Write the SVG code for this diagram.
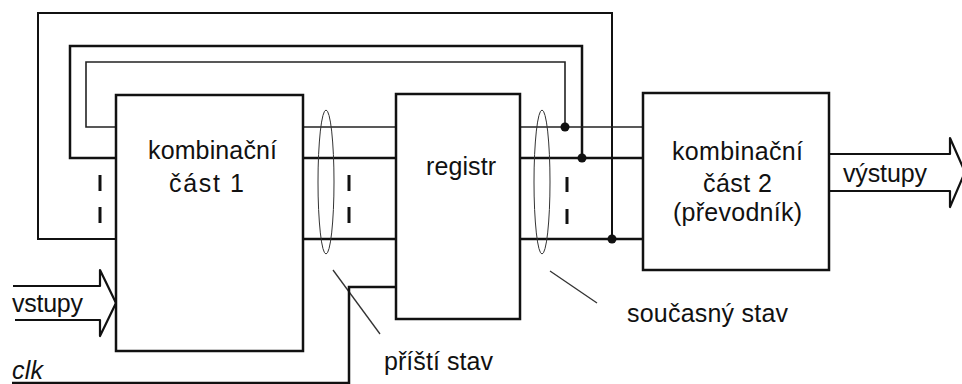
<svg xmlns="http://www.w3.org/2000/svg" width="962" height="384" viewBox="0 0 962 384">
<style>
  .box { fill: #fff; stroke: #111; stroke-width: 2.5; }
  .w { fill: none; stroke: #111; stroke-width: 2.5; }
  .t { fill: none; stroke: #222; stroke-width: 1.6; }
  .thin { fill: none; stroke: #333; stroke-width: 1; }
  .dash { stroke: #111; stroke-width: 3; }
  .dot { fill: #111; }
  text { font-family: "Liberation Sans", Arial, sans-serif; font-size: 25px; fill: #111; }
</style>
<rect width="962" height="384" fill="#fff"/>
<g id="connectors">
  <polyline class="w" points="116,239 38,239 38,13 612,13 612,239" style="stroke-width:2"/>
  <polyline class="w" points="116,158 70,158 70,46 582,46 582,158"/>
  <polyline class="t" points="116,127 86,127 86,62 565,62 565,127"/>
  <line class="t" x1="303" y1="127" x2="396" y2="127"/>
  <line class="w" x1="303" y1="158" x2="396" y2="158"/>
  <line class="w" x1="303" y1="239" x2="396" y2="239"/>
  <line class="t" x1="520" y1="127" x2="643" y2="127"/>
  <line class="w" x1="520" y1="158" x2="643" y2="158"/>
  <line class="w" x1="520" y1="239" x2="643" y2="239"/>
  <circle class="dot" cx="565" cy="127" r="4.5"/>
  <circle class="dot" cx="582" cy="158" r="4.5"/>
  <circle class="dot" cx="612" cy="239" r="4.5"/>
  <line class="dash" x1="100" y1="175" x2="100" y2="191"/>
  <line class="dash" x1="100" y1="207" x2="100" y2="223"/>
  <line class="dash" x1="349" y1="175" x2="349" y2="191"/>
  <line class="dash" x1="349" y1="207" x2="349" y2="223"/>
  <line class="dash" x1="567" y1="177" x2="567" y2="192"/>
  <line class="dash" x1="567" y1="209" x2="567" y2="224"/>
  <ellipse class="thin" cx="326" cy="182" rx="8" ry="72"/>
  <ellipse class="thin" cx="542" cy="182" rx="8" ry="72"/>
  <line class="thin" x1="333" y1="270" x2="380" y2="334" style="stroke-width:1.3"/>
  <line class="thin" x1="550" y1="271" x2="597" y2="303" style="stroke-width:1.3"/>
  <polyline class="w" points="13,286 100,286 100,270 116,303 100,336 100,320 15,320" style="stroke-width:2.2;stroke-linejoin:round"/>
  <polyline class="w" points="829,154 950,154 950,138 965,172 950,207 950,191 829,191" style="stroke-width:2.2;stroke-linejoin:round"/>
  <polyline class="w" points="12,383 349,383 349,287 396,287"/>
  <polyline class="w" points="396,279 410,287 396,295"/>
</g>
<g id="comb1">
  <rect class="box" x="116" y="95" width="187" height="256"/>
  <text x="148" y="159" textLength="129" lengthAdjust="spacing">kombinační</text>
  <text x="169" y="192" textLength="75" lengthAdjust="spacing">část 1</text>
</g>
<g id="register">
  <rect class="box" x="396" y="94" width="124" height="225"/>
  <text x="426" y="175" textLength="70" lengthAdjust="spacing">registr</text>
</g>
<g id="comb2">
  <rect class="box" x="643" y="93" width="186" height="177"/>
  <text x="672" y="160" textLength="131" lengthAdjust="spacing">kombinační</text>
  <text x="703" y="192" textLength="69" lengthAdjust="spacing">část 2</text>
  <text x="673" y="221" textLength="129" lengthAdjust="spacing">(převodník)</text>
</g>
<g id="labels">
  <text x="12" y="312" textLength="71" lengthAdjust="spacing">vstupy</text>
  <text x="843" y="182" textLength="84" lengthAdjust="spacing">výstupy</text>
  <text x="12" y="379" font-style="italic" textLength="31" lengthAdjust="spacing">clk</text>
  <text x="384" y="370" textLength="109" lengthAdjust="spacing">příští stav</text>
  <text x="627" y="322" textLength="161" lengthAdjust="spacing">současný stav</text>
</g>
</svg>
